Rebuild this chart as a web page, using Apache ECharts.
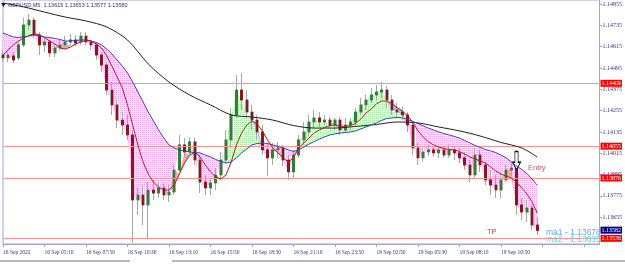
<!DOCTYPE html>
<html><head><meta charset="utf-8">
<script src="https://cdn.jsdelivr.net/npm/echarts@6/dist/echarts.min.js"></script>
<style>html,body{margin:0;padding:0;background:#fff}#c{width:625px;height:275px}</style>
</head><body><div id="c"></div>
<script>
// ---- data (GBPUSD, shown as 20-minute candles) ----
const timeLabels = ['16 Sep 2022','16 Sep 05:10','16 Sep 07:50','16 Sep 10:30','16 Sep 13:10','16 Sep 15:50','16 Sep 18:30','16 Sep 21:10','16 Sep 23:50','19 Sep 02:50','19 Sep 05:30','19 Sep 08:10','19 Sep 10:50'];
const labelStep = 8;
const barCount = 116;
// [open, close, low, high]
const candles = [
[1.14568,1.14552,1.14529,1.14597],[1.14552,1.14568,1.14529,1.14585],[1.14563,1.14540,1.14523,1.14585],[1.14552,1.14625,1.14540,1.14642],
[1.14625,1.14737,1.14613,1.14777],[1.14737,1.14765,1.14709,1.14799],[1.14765,1.14681,1.14664,1.14777],[1.14681,1.14625,1.14568,1.14698],
[1.14625,1.14642,1.14585,1.14664],[1.14642,1.14580,1.14557,1.14653],[1.14580,1.14608,1.14557,1.14630],[1.14608,1.14625,1.14597,1.14653],
[1.14625,1.14642,1.14613,1.14675],[1.14642,1.14653,1.14619,1.14687],[1.14653,1.14636,1.14619,1.14681],[1.14642,1.14675,1.14625,1.14698],
[1.14675,1.14642,1.14625,1.14698],[1.14642,1.14625,1.14597,1.14653],[1.14625,1.14568,1.14540,1.14636],[1.14568,1.14512,1.14473,1.14585],
[1.14512,1.14371,1.14343,1.14529],[1.14371,1.14287,1.14231,1.14416],[1.14287,1.14202,1.14157,1.14315],[1.14202,1.14174,1.14118,1.14247],
[1.14174,1.14118,1.14090,1.14231],[1.14118,1.13752,1.13510,1.14146],[1.13752,1.13780,1.13668,1.13820],[1.13780,1.13724,1.13611,1.13836],
[1.13724,1.13808,1.13538,1.13853],[1.13808,1.13791,1.13752,1.13865],[1.13791,1.13820,1.13763,1.13853],[1.13820,1.13780,1.13752,1.13848],
[1.13780,1.13797,1.13741,1.13836],[1.13797,1.13921,1.13780,1.13949],[1.13921,1.14062,1.13910,1.14118],[1.14062,1.14022,1.13989,1.14101],
[1.14022,1.14079,1.14005,1.14107],[1.14079,1.13977,1.13949,1.14101],[1.13977,1.13853,1.13791,1.14005],[1.13853,1.13820,1.13780,1.13893],
[1.13820,1.13848,1.13780,1.13876],[1.13848,1.13893,1.13808,1.13932],[1.13893,1.13977,1.13865,1.14022],[1.13977,1.14090,1.13960,1.14146],
[1.14090,1.14231,1.14045,1.14270],[1.14231,1.14371,1.14214,1.14456],[1.14371,1.14315,1.14259,1.14467],[1.14315,1.14247,1.14214,1.14371],
[1.14247,1.14202,1.14146,1.14287],[1.14202,1.14135,1.14090,1.14231],[1.14135,1.14034,1.14005,1.14174],[1.14034,1.13989,1.13887,1.14073],
[1.13989,1.14034,1.13949,1.14073],[1.14034,1.14045,1.13989,1.14079],[1.14045,1.13977,1.13943,1.14062],[1.13977,1.13910,1.13865,1.14005],
[1.13910,1.14005,1.13876,1.14034],[1.14005,1.14090,1.13989,1.14118],[1.14090,1.14135,1.14062,1.14191],[1.14135,1.14191,1.14112,1.14231],
[1.14191,1.14214,1.14157,1.14259],[1.14214,1.14191,1.14163,1.14247],[1.14191,1.14202,1.14169,1.14231],[1.14202,1.14174,1.14157,1.14219],
[1.14174,1.14202,1.14146,1.14214],[1.14202,1.14146,1.14118,1.14219],[1.14146,1.14174,1.14129,1.14214],[1.14174,1.14191,1.14146,1.14214],
[1.14191,1.14247,1.14169,1.14270],[1.14247,1.14287,1.14231,1.14326],[1.14287,1.14315,1.14259,1.14343],[1.14315,1.14343,1.14298,1.14383],
[1.14343,1.14360,1.14315,1.14399],[1.14360,1.14371,1.14326,1.14416],[1.14371,1.14315,1.14270,1.14394],[1.14315,1.14259,1.14231,1.14343],
[1.14259,1.14247,1.14214,1.14298],[1.14247,1.14231,1.14202,1.14276],[1.14231,1.14174,1.14135,1.14247],[1.14174,1.14045,1.14005,1.14191],
[1.14045,1.13989,1.13949,1.14073],[1.13989,1.14022,1.13966,1.14045],[1.14022,1.14034,1.14000,1.14062],[1.14034,1.14017,1.13994,1.14050],
[1.14017,1.14034,1.13989,1.14056],[1.14034,1.14005,1.13989,1.14056],[1.14005,1.14034,1.13989,1.14062],[1.14034,1.14017,1.13977,1.14056],
[1.14017,1.13989,1.13960,1.14045],[1.13989,1.13949,1.13921,1.14022],[1.13949,1.13893,1.13853,1.13977],[1.13893,1.14005,1.13876,1.14045],
[1.14005,1.13949,1.13910,1.14034],[1.13949,1.13865,1.13836,1.13966],[1.13865,1.13836,1.13780,1.13921],[1.13836,1.13808,1.13763,1.13893],
[1.13808,1.13865,1.13763,1.13910],[1.13865,1.13921,1.13853,1.13949],[1.13921,1.13932,1.13887,1.13960],[1.13932,1.13724,1.13668,1.13949],
[1.13724,1.13684,1.13639,1.13763],[1.13684,1.13707,1.13628,1.13752],[1.13707,1.13611,1.13583,1.13724],[1.13611,1.13580,1.13555,1.13653]
];
const ma1 = [1.14568,1.14597,1.14625,1.14647,1.14664,1.14678,1.14689,1.14681,1.14667,1.14647,
1.14630,1.14608,1.14602,1.14613,1.14630,1.14642,1.14650,1.14647,1.14630,1.14608,
1.14563,1.14506,1.14445,1.14383,1.14287,1.14174,1.14062,1.13966,1.13898,1.13853,
1.13825,1.13808,1.13808,1.13836,1.13898,1.13960,1.14005,1.14022,1.13994,1.13949,
1.13910,1.13882,1.13870,1.13893,1.13966,1.14062,1.14129,1.14174,1.14197,1.14180,
1.14141,1.14090,1.14045,1.14017,1.13989,1.13966,1.13989,1.14045,1.14073,1.14101,
1.14129,1.14146,1.14160,1.14171,1.14174,1.14169,1.14166,1.14171,1.14183,1.14208,
1.14242,1.14264,1.14293,1.14309,1.14309,1.14293,1.14273,1.14253,1.14225,1.14191,
1.14141,1.14107,1.14079,1.14062,1.14050,1.14042,1.14036,1.14034,1.14025,1.14011,
1.13994,1.13983,1.13972,1.13960,1.13938,1.13915,1.13898,1.13887,1.13876,1.13853,
1.13820,1.13786,1.13741,1.13678];
const ma2 = [1.14692,1.14681,1.14670,1.14667,1.14670,1.14675,1.14681,1.14675,1.14670,1.14667,
1.14661,1.14656,1.14647,1.14647,1.14650,1.14653,1.14653,1.14647,1.14639,1.14625,
1.14602,1.14574,1.14540,1.14506,1.14467,1.14416,1.14360,1.14304,1.14247,1.14197,
1.14146,1.14101,1.14062,1.14045,1.14034,1.14028,1.14022,1.14019,1.14017,1.14005,
1.13994,1.13980,1.13969,1.13960,1.13966,1.13989,1.14017,1.14039,1.14062,1.14070,
1.14073,1.14070,1.14062,1.14053,1.14045,1.14034,1.14025,1.14034,1.14050,1.14067,
1.14081,1.14095,1.14107,1.14118,1.14124,1.14129,1.14132,1.14135,1.14141,1.14152,
1.14163,1.14174,1.14186,1.14200,1.14211,1.14214,1.14217,1.14214,1.14205,1.14194,
1.14183,1.14169,1.14157,1.14146,1.14135,1.14126,1.14118,1.14110,1.14101,1.14087,
1.14073,1.14059,1.14048,1.14036,1.14028,1.14019,1.14005,1.13989,1.13966,1.13943,
1.13924,1.13901,1.13870,1.13835];
const ma3Bars = [0,4,8,12,16,20,24,28,32,36,40,44,48,52,56,60,64,68,72,76,80,84,88,92,96,100,103];
const ma3 = [1.14861,1.14839,1.14810,1.14782,1.14760,1.14726,1.14653,1.14518,1.14416,1.14343,1.14287,1.14231,1.14219,1.14202,1.14171,1.14157,1.14157,1.14166,1.14177,1.14191,1.14186,1.14163,1.14141,1.14112,1.14076,1.14045,1.13994];
const priceTicks = [1.13655,1.13775,1.13895,1.14015,1.14135,1.14255,1.14375,1.14495,1.14615,1.14735,1.14855];
const levels = [1.14409,1.14055,1.13876,1.13536];
const bidPrice = 1.13582;
const signalBar = 99, signalPrice = 1.13974;
const headerText = 'GBPUSD,M5  1.13615 1.13653 1.13577 1.13580';

// ---- derived tables ----
const closes = candles.map(c => c[1]);
const bodies = candles.map(c => [c[0], c[1], Math.min(c[0], c[1]), Math.max(c[0], c[1])]);
const base1 = closes.map((c, i) => Math.min(c, ma2[i]));
const pinkFill = closes.map((c, i) => c < ma2[i] ? ma2[i] - c : 0);
const greenFill = closes.map((c, i) => c > ma2[i] ? c - ma2[i] : 0);
const base2 = closes.map((c, i) => Math.min(c, ma1[i]));
const salmonFill = closes.map((c, i) => (c > ma1[i] && c < ma2[i]) ? c - ma1[i] : 0);
const blueFill = closes.map((c, i) => (c < ma1[i] && c > ma2[i]) ? ma1[i] - c : 0);

function hatch(c1, c2) {
  const c = document.createElement('canvas'); c.width = 2; c.height = 2;
  const g = c.getContext('2d');
  g.fillStyle = c1; g.fillRect(0, 0, 1, 1);
  g.fillStyle = c2; g.fillRect(1, 0, 1, 1);
  return { image: c, repeat: 'repeat' };
}
const axisCol = '#a3a3d6', labCol = '#35358c';
const fillLine = (name, data, stack, area) => ({
  name, type: 'line', data, stack, symbol: 'none', smooth: false, z: 1,
  lineStyle: { width: 0, opacity: 0 }, areaStyle: area ? { color: area, opacity: 1 } : undefined, silent: true
});

const chart = echarts.init(document.getElementById('c'), null, { renderer: 'canvas' });
chart.setOption({
  animation: false,
  backgroundColor: '#fff',
  grid: { left: 0, right: 24, top: 0, bottom: 31, show: true, borderColor: axisCol, borderWidth: 1 },
  xAxis: {
    type: 'category', data: [...Array(barCount).keys()], boundaryGap: false,
    axisLine: { lineStyle: { color: axisCol } },
    axisTick: { interval: labelStep - 1, length: 3, lineStyle: { color: axisCol } },
    axisLabel: { interval: labelStep - 1, formatter: (v, i) => timeLabels[i / labelStep] || '', align: 'left',
      fontSize: 5.5, fontFamily: 'Liberation Serif', color: labCol, margin: 6 },
    splitLine: { show: false }
  },
  yAxis: {
    type: 'value', position: 'right', min: 1.13504, max: 1.14878, scale: true,
    axisLine: { show: true, lineStyle: { color: axisCol } },
    axisTick: { show: true, customValues: priceTicks, length: 3, lineStyle: { color: axisCol } },
    axisLabel: { customValues: priceTicks, formatter: v => v.toFixed(5), fontSize: 6, fontFamily: 'Liberation Serif', color: labCol, margin: 3 },
    splitLine: { show: false }
  },
  graphic: [
    { type: 'polygon', shape: { points: [[1, 3], [6, 3], [3.5, 7]] }, style: { fill: '#1a1a60' } },
    { type: 'text', left: 8, top: 2, style: { text: headerText, fontSize: 5.5, fontFamily: 'Liberation Sans', fill: '#30308a' } },
    { type: 'text', left: 528, top: 164, style: { text: 'Entry', fontSize: 7.5, fontFamily: 'Liberation Sans', fill: '#e85060' } },
    { type: 'text', left: 487, top: 228, style: { text: 'TP', fontSize: 7.5, fontFamily: 'Liberation Sans', fill: '#ff3030' } },
    { type: 'text', left: 546, top: 228, z: 100, style: { text: 'ma1 - ' + ma1[ma1.length - 1].toFixed(5), fontSize: 8.5, fontFamily: 'Liberation Sans', fill: '#62a8ff' } },
    { type: 'text', left: 546, top: 235, z: 99, style: { text: 'ma2 - ' + ma2[ma2.length - 1].toFixed(5), fontSize: 8.5, fontFamily: 'Liberation Sans', fill: '#5adbe0' } },
    { type: 'line', shape: { x1: 0, y1: 261, x2: 130, y2: 261 }, style: { stroke: '#a0a0a0', lineWidth: 1.5 } },
    { type: 'line', shape: { x1: 172, y1: 261, x2: 625, y2: 261 }, style: { stroke: '#a0a0a0', lineWidth: 1.5 } }
  ],
  series: [
    fillLine('b1', base1, 'f1', null),
    fillLine('pink', pinkFill, 'f1', hatch('#ffa4f4', '#ffe6fb')),
    fillLine('green', greenFill, 'f1', hatch('#a6eca6', '#e4fae4')),
    fillLine('b2', base2, 'f2', null),
    fillLine('salmon', salmonFill, 'f2', '#f6aaa4'),
    fillLine('blue', blueFill, 'f2', '#aab0f2'),
    { name: 'wick', type: 'candlestick', data: candles, barWidth: 3, z: 3,
      itemStyle: { color: '#a6a6a6', color0: '#a6a6a6', borderColor: '#a6a6a6', borderColor0: '#a6a6a6', borderWidth: 1 } },
    { name: 'body', type: 'candlestick', data: bodies, barWidth: 2, z: 4,
      itemStyle: { color: '#2f7f37', color0: '#8b1818', borderColor: '#2f7f37', borderColor0: '#8b1818', borderWidth: 1 } },
    { name: 'ma3', type: 'line', data: ma3Bars.map((b, k) => [b, ma3[k]]), symbol: 'none', smooth: 0.3, z: 5,
      lineStyle: { color: '#202020', width: 1 } },
    { name: 'ma2', type: 'line', data: ma2, symbol: 'none', z: 5, lineStyle: { color: '#3a3ad0', width: 1 } },
    { name: 'ma1', type: 'line', data: ma1, symbol: 'none', z: 6, lineStyle: { color: '#b01818', width: 1 },
      markLine: {
        silent: true, symbol: ['none', 'none'], animation: false, precision: 5,
        lineStyle: { color: '#ff9090', width: 1, type: 'solid' },
        label: { show: true, position: 'end', distance: 1, formatter: p => Number(p.value).toFixed(5), color: '#fff',
          backgroundColor: '#ff0000', fontSize: 6, fontFamily: 'Liberation Serif', padding: [1, 1, 0, 1] },
        data: [...levels.map(v => ({ yAxis: v })),
          { yAxis: bidPrice, lineStyle: { color: 'rgba(0,0,0,0)' }, label: { backgroundColor: '#000080' } }]
      },
      markPoint: {
        silent: true, animation: false,
        symbol: 'path://M3,0 L7,0 L7,12 L10,12 L5,20 L0,12 L3,12 Z', symbolSize: [8, 18],
        itemStyle: { color: '#fff', borderColor: '#000', borderWidth: 1 }, label: { show: false },
        data: [{ coord: [signalBar, signalPrice] }]
      }
    }
  ]
});
</script></body></html>
